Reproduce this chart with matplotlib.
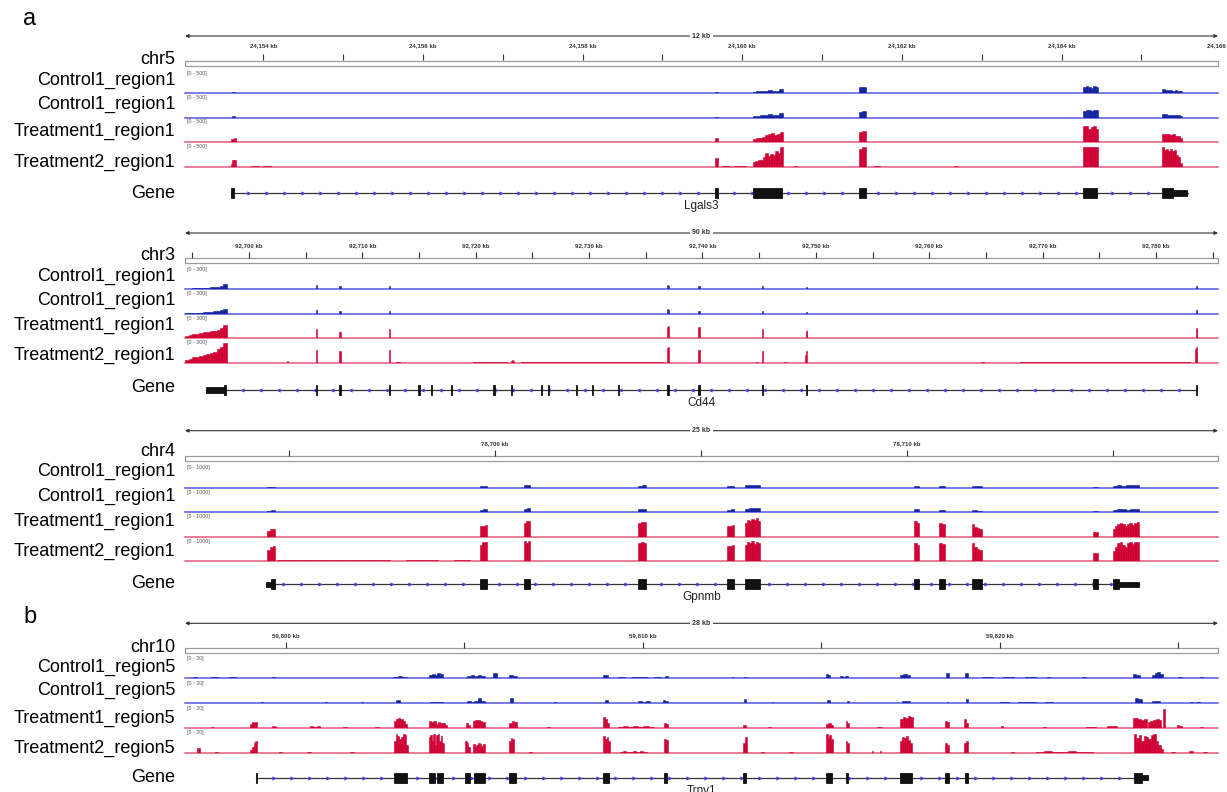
import matplotlib
matplotlib.use('Agg')
import matplotlib.pyplot as plt
from matplotlib.patches import Rectangle
import numpy as np

plt.rcParams['font.family'] = ['Liberation Sans', 'DejaVu Sans']

# ---------------------------------------------------------------- data
# genomic windows (kb)
chr5_xlim = (24153.02, 24165.96)
chr3_xlim = (92694.36, 92785.47)
chr4_xlim = (78692.47, 78717.56)
chr10_xlim = (59797.17, 59826.11)

# track names
names_a = ['Control1_region1', 'Control1_region1', 'Treatment1_region1', 'Treatment2_region1']
names_b = ['Control1_region5', 'Control1_region5', 'Treatment1_region5', 'Treatment2_region5']

# data ranges
chr5_range = 500
chr3_range = 300
chr4_range = 1000
chr10_range = 20

# peaks: (start_kb, end_kb, [heights across the peak])
chr5_ctrl1 = [(24153.61, 24153.65, [30]), (24159.66, 24159.70, [25]),
              (24160.13, 24160.51, [35, 45, 45, 60, 75, 55, 60, 90]),
              (24161.46, 24161.55, [140, 150]),
              (24164.27, 24164.46, [140, 165, 150, 130, 165, 150]),
              (24165.26, 24165.51, [90, 70, 80, 70, 60, 65, 50, 40])]
chr5_ctrl2 = [(24153.61, 24153.65, [30]), (24159.66, 24159.70, [25]),
              (24160.13, 24160.51, [35, 45, 55, 65, 80, 70, 75, 110]),
              (24161.46, 24161.55, [150, 170]),
              (24164.27, 24164.46, [170, 200, 180, 170, 200, 180]),
              (24165.26, 24165.51, [90, 80, 75, 70, 65, 60, 55, 40])]
chr5_trt1 = [(24153.60, 24153.66, [70, 90]), (24159.66, 24159.70, [110]),
             (24160.13, 24160.51, [80, 90, 100, 130, 170, 200, 230, 170, 210, 260]),
             (24161.46, 24161.55, [250, 280]),
             (24164.27, 24164.46, [400, 390, 330, 370, 390, 330]),
             (24165.26, 24165.51, [200, 190, 200, 180, 190, 160, 150, 110])]
chr5_trt2 = [(24153.59, 24153.66, [80, 160, 180]), (24153.85, 24153.95, [12]),
             (24154.0, 24154.1, [10]), (24159.66, 24159.70, [225]),
             (24159.75, 24159.85, [15]), (24159.90, 24160.05, [12]),
             (24160.13, 24160.51, [120, 150, 170, 160, 250, 330, 260, 310, 280, 380, 330, 480]),
             (24160.65, 24160.69, [15]),
             (24161.46, 24161.55, [450, 480]), (24161.65, 24161.72, [10]),
             (24162.65, 24162.70, [8]), (24164.27, 24164.46, [500, 500, 500, 500, 500, 500]),
             (24165.26, 24165.51, [480, 420, 440, 380, 450, 400, 420, 300, 250, 100])]

chr3_ctrl1 = [(92694.40, 92698.06, [8, 10, 15, 15, 20, 25, 25, 30, 35, 40, 55, 75]),
              (92705.93, 92706.03, [60]), (92707.98, 92708.08, [45]),
              (92712.33, 92712.43, [45]), (92723.20, 92723.30, [12]),
              (92736.85, 92737.05, [60, 55]), (92739.65, 92739.75, [45]),
              (92745.25, 92745.35, [45]), (92749.13, 92749.23, [30]),
              (92783.50, 92783.65, [50, 45])]
chr3_ctrl2 = [(92694.40, 92698.06, [8, 12, 14, 18, 22, 24, 28, 30, 38, 45, 60, 80]),
              (92705.93, 92706.03, [65]), (92707.98, 92708.08, [50]),
              (92712.33, 92712.43, [45]),
              (92736.85, 92737.05, [70, 60]), (92739.65, 92739.75, [40]),
              (92745.25, 92745.35, [50]), (92749.13, 92749.23, [35]),
              (92783.50, 92783.65, [55, 45])]
chr3_trt1 = [(92694.40, 92698.06, [40, 50, 60, 70, 80, 90, 100, 105, 110, 130, 160, 200]),
             (92705.93, 92706.03, [135]), (92707.98, 92708.08, [90]),
             (92712.33, 92712.43, [135]),
             (92736.85, 92737.05, [170, 180]), (92739.65, 92739.75, [165]),
             (92745.25, 92745.35, [135]), (92749.13, 92749.23, [110, 120]),
             (92783.50, 92783.65, [150, 140])]
chr3_trt2 = [(92694.40, 92698.06, [40, 60, 80, 90, 100, 110, 130, 140, 160, 200, 240, 290]),
             (92703.37, 92703.47, [30]), (92705.93, 92706.03, [195]),
             (92707.98, 92708.08, [180]), (92712.33, 92712.43, [195]),
             (92713.0, 92713.3, [8]), (92719.8, 92722.8, [6, 4, 7, 5, 6]),
             (92723.10, 92723.40, [20, 45, 25]), (92724.0, 92736.6, [5, 7, 4, 6, 5, 7, 4, 6, 5, 6]),
             (92736.85, 92737.05, [220, 240]), (92739.65, 92739.75, [195]),
             (92744.7, 92744.9, [8]), (92745.25, 92745.35, [180]),
             (92747.2, 92747.4, [15]), (92749.05, 92749.23, [120, 180]),
             (92764.6, 92764.8, [12]), (92768.0, 92783.0, [6, 4, 7, 5, 6, 4, 8, 5, 6, 7, 4, 6]),
             (92783.45, 92783.65, [200, 240, 160])]

chr4_ctrl1 = [(78694.47, 78694.66, [40, 50]), (78699.64, 78699.80, [90, 100]),
              (78700.71, 78700.85, [120, 160]), (78703.48, 78703.67, [110, 130]),
              (78705.63, 78705.81, [90, 100]), (78706.07, 78706.44, [130, 150, 150, 140]),
              (78710.18, 78710.30, [100]), (78710.79, 78710.93, [90]),
              (78711.58, 78711.82, [90, 70]), (78714.52, 78714.64, [40]),
              (78715.00, 78715.64, [100, 120, 110, 120, 140, 150])]
chr4_ctrl2 = [(78694.47, 78694.66, [70, 100]), (78699.64, 78699.80, [130, 150]),
              (78700.71, 78700.85, [170, 220]), (78703.48, 78703.67, [140, 170]),
              (78705.63, 78705.81, [120, 150]), (78706.07, 78706.44, [180, 200, 210, 190]),
              (78710.18, 78710.30, [140]), (78710.79, 78710.93, [120]),
              (78711.58, 78711.82, [120, 80]), (78714.52, 78714.64, [50]),
              (78715.00, 78715.64, [110, 150, 140, 130, 160, 180])]
chr4_trt1 = [(78694.47, 78694.66, [300, 370, 400]), (78699.64, 78699.80, [520, 560, 600]),
             (78700.71, 78700.85, [700, 800, 780]), (78703.48, 78703.67, [700, 760, 720]),
             (78705.63, 78705.81, [520, 560, 600]),
             (78706.07, 78706.44, [700, 850, 800, 900, 850, 950, 800]),
             (78710.18, 78710.30, [800, 700]), (78710.79, 78710.93, [700, 650]),
             (78711.58, 78711.82, [650, 500, 450, 400]), (78714.52, 78714.64, [250, 260]),
             (78715.00, 78715.64, [400, 550, 650, 700, 650, 550, 650, 700, 600, 700, 720])]
chr4_trt2 = [(78694.47, 78694.66, [550, 700, 750]),
             (78694.70, 78699.40, [50, 40, 40, 35, 30, 35, 30, 25, 30, 30, 25, 40]),
             (78699.64, 78699.80, [800, 950, 930]), (78700.71, 78700.85, [1000, 900, 1000]),
             (78703.48, 78703.67, [880, 950, 900]), (78705.63, 78705.81, [750, 740, 780]),
             (78706.07, 78706.44, [800, 950, 900, 980, 850, 950, 900]),
             (78708.30, 78708.40, [20]),
             (78710.18, 78710.30, [900, 800]), (78710.79, 78710.93, [900, 850]),
             (78711.58, 78711.82, [900, 700, 600, 550]), (78713.10, 78713.20, [20]),
             (78714.52, 78714.64, [400, 380]),
             (78715.00, 78715.64, [500, 700, 900, 950, 800, 700, 900, 950, 850, 950, 960])]

chr10_ctrl1 = [(59797.40, 59797.50, [1]), (59797.90, 59798.10, [1]), (59798.40, 59798.60, [1]),
               (59799.60, 59799.70, [1]), (59803.00, 59803.39, [1, 2, 1]),
               (59804.00, 59804.40, [3, 4, 3, 5, 4]), (59805.07, 59805.57, [2, 3, 2, 3, 2]),
               (59805.80, 59805.91, [5]), (59806.25, 59806.47, [3, 2]),
               (59808.88, 59809.02, [3]), (59809.30, 59810.50, [1, 0, 1, 1, 0, 1]),
               (59810.62, 59810.70, [2]), (59812.49, 59812.52, [1]), (59812.83, 59812.88, [1]),
               (59815.13, 59815.24, [4, 3]), (59815.52, 59815.74, [2, 1, 2]),
               (59817.20, 59817.48, [3, 4, 3]), (59818.49, 59818.57, [5]),
               (59819.02, 59819.10, [5]), (59819.50, 59821.00, [1, 0, 1, 0, 1]),
               (59821.32, 59821.40, [1]), (59822.30, 59822.40, [1]),
               (59823.72, 59823.92, [4, 3]), (59824.26, 59824.57, [3, 5, 6, 4]),
               (59825.00, 59825.10, [1]), (59825.60, 59825.70, [1])]
chr10_ctrl2 = [(59799.30, 59799.35, [1]), (59801.10, 59801.15, [1]), (59802.10, 59802.15, [1]),
               (59803.08, 59803.19, [3]), (59804.03, 59804.40, [1, 1, 1]),
               (59805.07, 59805.57, [2, 1, 2, 5, 2]), (59806.27, 59806.36, [5]),
               (59807.50, 59807.55, [1]), (59808.94, 59809.02, [3]),
               (59809.86, 59810.20, [2, 1, 2]), (59810.56, 59810.70, [3, 2]),
               (59812.83, 59812.88, [4]), (59813.61, 59813.65, [1]),
               (59815.16, 59815.24, [3]), (59815.72, 59815.76, [2]),
               (59817.25, 59817.48, [2, 2]), (59818.51, 59818.55, [1]),
               (59819.05, 59819.10, [4]), (59820.00, 59821.50, [1, 0, 1, 1, 0, 1]),
               (59823.78, 59823.98, [5, 4]), (59824.26, 59824.48, [2, 2]),
               (59825.32, 59825.60, [1, 0, 1])]
chr10_trt1 = [(59797.90, 59797.96, [1]), (59798.99, 59799.19, [4, 6, 5, 6]),
              (59799.61, 59799.75, [2, 1]), (59800.67, 59800.95, [2, 1, 2]),
              (59801.60, 59801.70, [1]), (59802.50, 59802.60, [1]),
              (59803.02, 59803.39, [7, 9, 10, 9, 7, 4]),
              (59804.00, 59804.51, [7, 6, 7, 4, 6, 5, 5, 3]), (59805.04, 59805.15, [5, 3]),
              (59805.24, 59805.57, [7, 8, 8, 7, 6]), (59806.25, 59806.47, [5, 7, 6]),
              (59807.30, 59807.40, [1]), (59808.88, 59809.05, [11, 9, 5]),
              (59809.30, 59810.30, [1, 2, 1, 2, 1, 2, 1]), (59810.59, 59810.70, [5, 4]),
              (59812.80, 59812.88, [3]), (59813.50, 59813.60, [1]),
              (59815.13, 59815.32, [4, 5, 3]), (59815.69, 59815.77, [7, 5]),
              (59816.55, 59816.69, [1, 1]), (59817.20, 59817.56, [9, 11, 10, 12, 11]),
              (59818.46, 59818.57, [7, 6]), (59819.00, 59819.10, [9, 5]),
              (59820.03, 59820.09, [2]), (59821.20, 59821.30, [1]),
              (59822.40, 59822.70, [1, 1]), (59823.00, 59823.28, [2, 2, 2]),
              (59823.72, 59824.12, [10, 10, 9, 8, 9]), (59824.14, 59824.52, [6, 7, 8, 9, 8]),
              (59824.57, 59824.63, [19]), (59824.96, 59825.10, [3, 2]),
              (59825.60, 59825.70, [1])]
chr10_trt2 = [(59797.50, 59797.58, [5, 5]), (59798.00, 59798.10, [1]),
              (59798.99, 59799.19, [3, 6, 10, 12]), (59799.80, 59799.90, [1]),
              (59800.60, 59800.70, [1]), (59801.80, 59801.90, [1]),
              (59803.02, 59803.42, [12, 19, 17, 14, 16, 19, 18, 8]),
              (59804.00, 59804.42, [16, 18, 12, 19, 8, 18, 19, 12, 17, 10]),
              (59805.01, 59805.15, [12, 10, 6]), (59805.24, 59805.57, [9, 6, 8, 10, 9, 7, 9]),
              (59806.25, 59806.39, [12, 15, 14]), (59806.80, 59806.90, [1]),
              (59808.88, 59809.08, [17, 14, 16, 12]),
              (59809.35, 59810.10, [1, 2, 1, 1, 2, 1, 2, 1]), (59810.59, 59810.70, [14, 13]),
              (59812.80, 59812.91, [10, 16]), (59813.30, 59813.40, [1]),
              (59814.10, 59814.20, [1]), (59815.13, 59815.32, [19, 15, 18, 14]),
              (59815.69, 59815.77, [12, 10]), (59816.41, 59816.45, [2]),
              (59816.64, 59816.68, [2]), (59817.20, 59817.53, [12, 16, 15, 17, 13, 10]),
              (59818.46, 59818.57, [10, 8]), (59819.00, 59819.10, [10, 12]),
              (59820.30, 59820.40, [1]), (59821.00, 59822.60, [1, 2, 1, 1, 2, 1, 1]),
              (59823.75, 59824.57, [19, 15, 18, 12, 17, 16, 14, 18, 19, 12, 8, 4]),
              (59824.80, 59824.90, [1]), (59825.30, 59825.40, [2]), (59825.70, 59825.80, [1])]

# gene models: intron span, coding exons, UTRs (kb)
lgals3_span = (24153.60, 24165.58)
lgals3_exons = [(24153.60, 24153.64), (24159.66, 24159.70), (24160.13, 24160.50),
                (24161.46, 24161.55), (24164.27, 24164.44), (24165.26, 24165.40)]
lgals3_utrs = [(24165.40, 24165.57)]

cd44_span = (92696.21, 92783.57)
cd44_exons = [(92697.84, 92697.95), (92705.93, 92706.03), (92707.98, 92708.08),
              (92712.33, 92712.43), (92714.95, 92715.10), (92716.07, 92716.17),
              (92717.83, 92717.93), (92721.56, 92721.66), (92723.12, 92723.22),
              (92725.77, 92725.87), (92726.35, 92726.45), (92728.85, 92728.95),
              (92730.26, 92730.36), (92732.52, 92732.62), (92736.86, 92737.01),
              (92739.64, 92739.74), (92745.25, 92745.35), (92749.13, 92749.23),
              (92783.50, 92783.60)]
cd44_utrs = [(92696.21, 92697.89)]

gpnmb_span = (78694.44, 78715.64)
gpnmb_exons = [(78694.55, 78694.66), (78699.64, 78699.80), (78700.71, 78700.85),
               (78703.48, 78703.67), (78705.63, 78705.81), (78706.07, 78706.44),
               (78710.18, 78710.30), (78710.79, 78710.93), (78711.58, 78711.82),
               (78714.52, 78714.64), (78715.00, 78715.16)]
gpnmb_utrs = [(78694.44, 78694.55), (78715.16, 78715.64)]

trpv1_span = (59799.16, 59824.14)
trpv1_exons = [(59799.15, 59799.18), (59803.02, 59803.39), (59804.00, 59804.17),
               (59804.23, 59804.40), (59805.01, 59805.15), (59805.27, 59805.57),
               (59806.25, 59806.44), (59808.88, 59809.05), (59810.59, 59810.67),
               (59812.80, 59812.88), (59815.13, 59815.29), (59815.69, 59815.74),
               (59817.20, 59817.53), (59818.46, 59818.57), (59819.02, 59819.10),
               (59823.75, 59823.98)]
trpv1_utrs = [(59823.98, 59824.14)]

gene_names = ['Lgals3', 'Cd44', 'Gpnmb', 'Trpv1']
chrom_names = ['chr5', 'chr3', 'chr4', 'chr10']
span_labels = ['12 kb', '90 kb', '25 kb', '28 kb']

# ---------------------------------------------------------------- style
W, H = 1227, 792
X0, X1 = 185, 1218
CTRL_FILL = '#13249c'
CTRL_LINE = '#5656e0'
TRT_FILL = '#cf0033'
TRT_LINE = '#e4587c'
GENE_COL = '#111111'
STRAND_COL = '#3a3ae0'

fig = plt.figure(figsize=(W / 100, H / 100), dpi=100)


def axes_px(top, bottom, left=X0, right=X1):
    ax = fig.add_axes([left / W, 1 - bottom / H, (right - left) / W, (bottom - top) / H])
    ax.set_axis_off()
    return ax


def draw_ruler(lay, xlim, minor, major, span_label):
    top, bot = lay['arrow'] - 6, lay['box'] + 7
    ax = axes_px(top, bot)
    ax.set_xlim(xlim)
    ax.set_ylim(bot, top)
    xmid = 0.5 * (xlim[0] + xlim[1])
    ya = lay['arrow']
    ax.annotate('', xy=(xlim[0], ya), xytext=(xlim[1], ya),
                arrowprops=dict(arrowstyle='<|-|>', color='#333333', lw=0.8,
                                mutation_scale=5, shrinkA=0, shrinkB=0))
    ax.text(xmid, ya, span_label, ha='center', va='center', fontsize=5,
            fontweight='bold', color='#333333',
            bbox=dict(facecolor='white', edgecolor='none', pad=1.5))
    first = int(np.ceil(xlim[0] / minor)) * minor
    ticks = np.arange(first, xlim[1], minor)
    ax.vlines(ticks, lay['tick'], lay['tick'] + 6, color='#333333', lw=0.8)
    labs = [t for t in np.arange(int(np.ceil(xlim[0] / major)) * major, xlim[1] + major, major)
            if t <= xlim[1] + 0.1 * major]
    for t in labs:
        ax.text(t, lay['ticklab'], f'{int(t):,} kb', ha='center', va='center',
                fontsize=4.4, fontweight='bold', color='#333333', clip_on=False)
    ax.add_patch(Rectangle((xlim[0], lay['box']), xlim[1] - xlim[0], 5, fill=False,
                           edgecolor='#9a9a9a', lw=0.9, clip_on=False))


def draw_track(baseline, xlim, peaks, vmax, fill, line):
    ax = axes_px(baseline - 20, baseline)
    for start, end, hs in peaks:
        n = len(hs)
        w = (end - start) / n
        xs = start + w * np.arange(n)
        ax.bar(xs, np.minimum(hs, vmax), width=w, align='edge', color=fill,
               edgecolor=fill, linewidth=0.4)
    ax.axhline(0, color=line, lw=1.1, clip_on=False, zorder=0)
    ax.set_xlim(xlim)
    ax.set_ylim(0, vmax)
    ax.text(0.002, 1.0, f'[0 - {vmax}]', transform=ax.transAxes, fontsize=3.8,
            ha='left', va='center', color='#555555')


def draw_gene(y, xlim, span, exons, utrs, name, strand):
    ax = axes_px(y - 8, y + 8)
    ax.set_xlim(xlim)
    ax.set_ylim(-8, 8)
    ax.plot(span, [0, 0], color='#333333', lw=0.9, zorder=1)
    step_kb = 18 * (xlim[1] - xlim[0]) / (X1 - X0)
    sx = np.arange(span[0] + step_kb, span[1] - step_kb * 0.3, step_kb)
    ax.plot(sx, np.zeros_like(sx), ls='none', marker=strand, ms=3,
            color=STRAND_COL, mew=0, zorder=2)
    for s, e in exons:
        ax.add_patch(Rectangle((s, -5), e - s, 10, facecolor=GENE_COL,
                               edgecolor=GENE_COL, lw=0.6, zorder=3))
    for s, e in utrs:
        ax.add_patch(Rectangle((s, -2.6), e - s, 5.2, facecolor=GENE_COL,
                               edgecolor=GENE_COL, lw=0.6, zorder=3))
    ax.text(0.5 * (xlim[0] + xlim[1]), -13, name, ha='center', va='center',
            fontsize=8.5, color='#222222', clip_on=False)


def left_label(y, text, size=13):
    fig.text(175 / W, 1 - y / H, text, ha='right', va='center', fontsize=size)


layouts = [
    dict(arrow=36, ticklab=46, tick=54, box=61, chr=60, base=[93, 117.5, 142, 166.7],
         labs=[80, 104, 131, 162], gene=193, genelab=193),
    dict(arrow=233, ticklab=245.5, tick=251.5, box=258, chr=255, base=[289.3, 314, 338.3, 362.7],
         labs=[276, 300, 325, 355], gene=390, genelab=388),
    dict(arrow=430.7, ticklab=444, tick=449.5, box=455.5, chr=452, base=[487.7, 512.3, 536.7, 561],
         labs=[471, 496, 521, 551], gene=584.3, genelab=584),
    dict(arrow=623.3, ticklab=635.7, tick=641.5, box=647.5, chr=648, base=[678.3, 703.3, 728.3, 752.7],
         labs=[667, 690, 718, 748], gene=777.7, genelab=777),
]

regions = [
    (chr5_xlim, 1, 2, chr5_range, [chr5_ctrl1, chr5_ctrl2, chr5_trt1, chr5_trt2],
     lgals3_span, lgals3_exons, lgals3_utrs, '>', names_a),
    (chr3_xlim, 5, 10, chr3_range, [chr3_ctrl1, chr3_ctrl2, chr3_trt1, chr3_trt2],
     cd44_span, cd44_exons, cd44_utrs, '<', names_a),
    (chr4_xlim, 5, 10, chr4_range, [chr4_ctrl1, chr4_ctrl2, chr4_trt1, chr4_trt2],
     gpnmb_span, gpnmb_exons, gpnmb_utrs, '>', names_a),
    (chr10_xlim, 5, 10, chr10_range, [chr10_ctrl1, chr10_ctrl2, chr10_trt1, chr10_trt2],
     trpv1_span, trpv1_exons, trpv1_utrs, '>', names_b),
]

for i, (lay, reg) in enumerate(zip(layouts, regions)):
    xlim, minor, major, vmax, tracks, span, exons, utrs, strand, tnames = reg
    draw_ruler(lay, xlim, minor, major, span_labels[i])
    left_label(lay['chr'], chrom_names[i])
    for j, (base, pk) in enumerate(zip(lay['base'], tracks)):
        fill, line = (CTRL_FILL, CTRL_LINE) if j < 2 else (TRT_FILL, TRT_LINE)
        draw_track(base, xlim, pk, vmax, fill, line)
        left_label(lay['labs'][j], tnames[j])
    draw_gene(lay['gene'], xlim, span, exons, utrs, gene_names[i], strand)
    left_label(lay['genelab'], 'Gene')

fig.text(30 / W, 1 - 19 / H, 'a', fontsize=17, ha='center', va='center')
fig.text(30 / W, 1 - 617 / H, 'b', fontsize=17, ha='center', va='center')

fig.savefig('out.png', dpi=100, facecolor='white')
